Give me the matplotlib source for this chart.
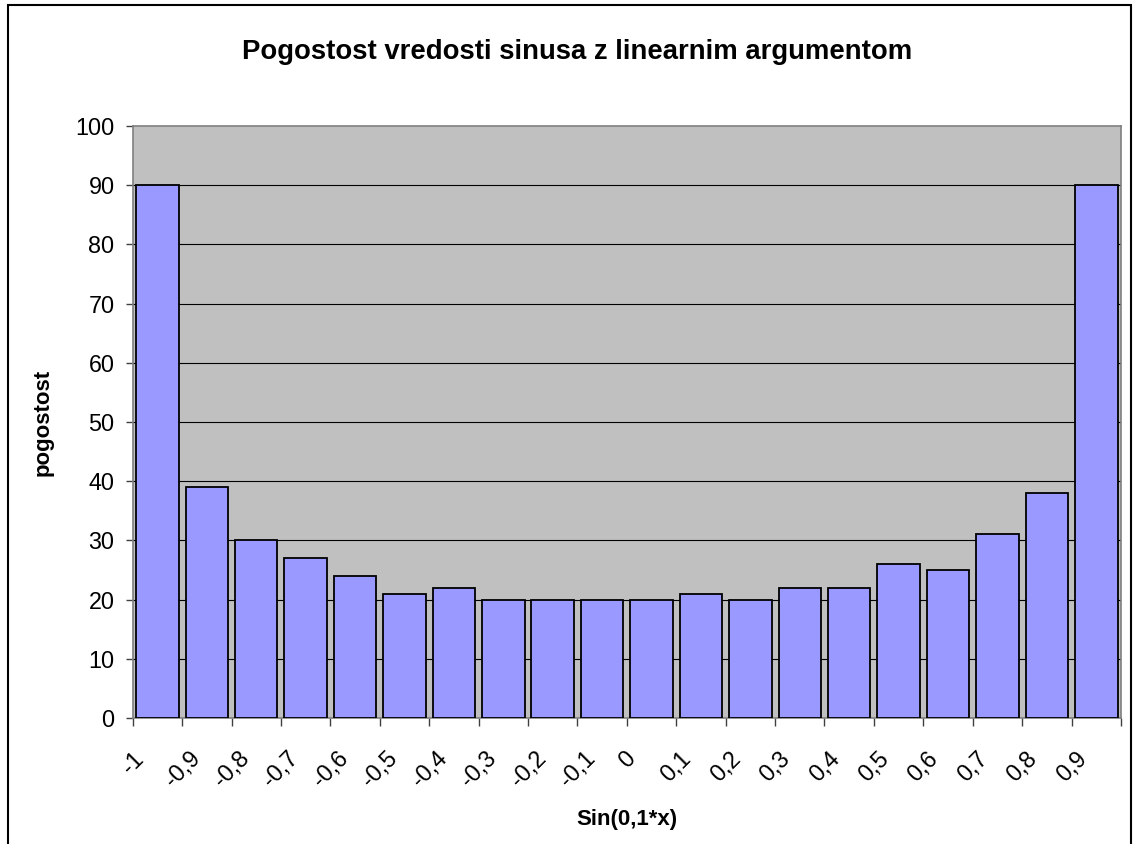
import matplotlib
matplotlib.use("Agg")
import matplotlib.pyplot as plt
from matplotlib.patches import Rectangle

plt.rcParams["font.family"] = ["Liberation Sans", "DejaVu Sans"]

# histogram counts per bin of sin(0.1*x)
labels = ["-1", "-0,9", "-0,8", "-0,7", "-0,6", "-0,5", "-0,4", "-0,3", "-0,2", "-0,1",
          "0", "0,1", "0,2", "0,3", "0,4", "0,5", "0,6", "0,7", "0,8", "0,9"]
counts = [90, 39, 30, 27, 24, 21, 22, 20, 20, 20,
          20, 21, 20, 22, 22, 26, 25, 31, 38, 90]

fig = plt.figure(figsize=(11.33, 8.44), dpi=100)
fig.patches.append(Rectangle((8 / 1133, -0.01), 1123 / 1133, 1 - 5 / 844 + 0.01,
                             transform=fig.transFigure, fill=False,
                             edgecolor="black", linewidth=1.5))

ax = fig.add_axes([0.1171, 0.1493, 0.8723, 0.7014])
ax.set_facecolor("#C0C0C0")

x = list(range(len(counts)))
ax.bar(x, counts, width=0.86, color="#9999FF", edgecolor="black",
       linewidth=1.3, zorder=3)

ax.set_xlim(-0.5, len(counts) - 0.5)
ax.set_ylim(0, 100)
ax.set_yticks(range(0, 101, 10))
for y in range(10, 100, 10):
    ax.axhline(y, color="black", linewidth=0.8, zorder=1)

ticks = [i - 0.5 for i in range(len(counts) + 1)]
ax.set_xticks(ticks)
ax.set_xticklabels(labels + [""], rotation=45, ha="center")

for s in ax.spines.values():
    s.set_color("#808080")
    s.set_linewidth(1.2)

ax.tick_params(axis="y", labelsize=16.8, length=5, width=1, color="#404040", pad=8)
ax.tick_params(axis="x", labelsize=16.8, length=6, width=1, color="#404040", pad=15)

ax.set_xlabel("Sin(0,1*x)", fontsize=16, fontweight="bold", labelpad=12)
ax.set_ylabel("pogostost", fontsize=16, fontweight="bold", labelpad=16)
fig.text(0.509, 1 - 52 / 844, "Pogostost vredosti sinusa z linearnim argumentom",
         ha="center", va="center", fontsize=19.8, fontweight="bold")

fig.savefig("out.png", dpi=100)
